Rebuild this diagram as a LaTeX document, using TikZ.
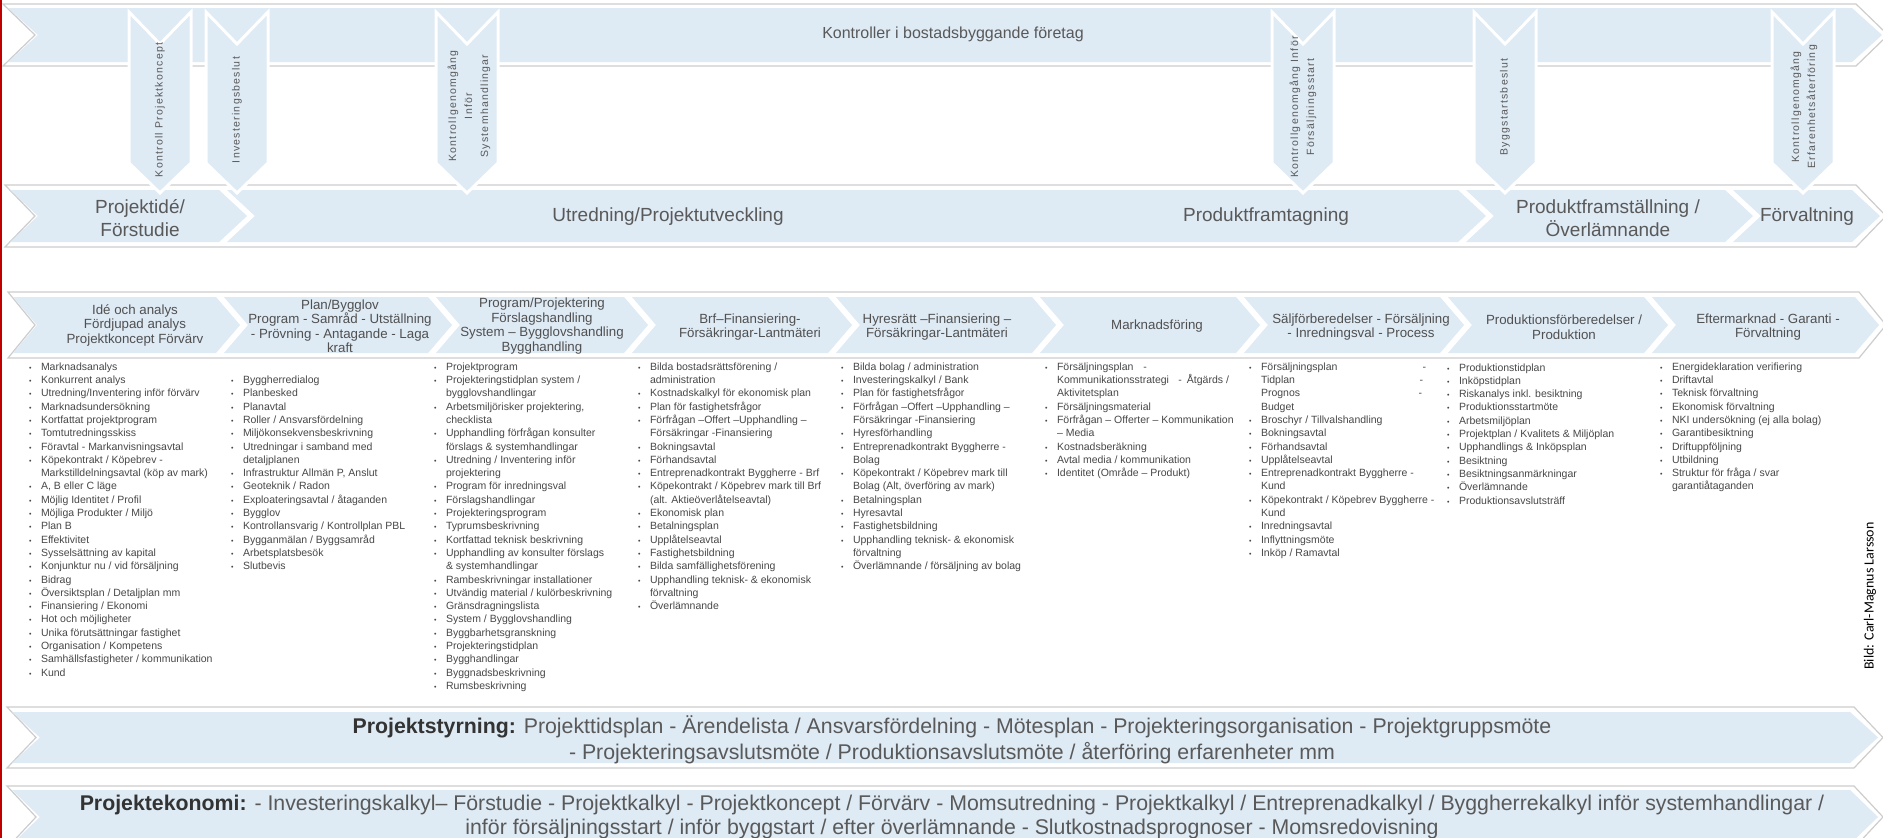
\documentclass[tikz,border=0pt]{standalone}
\usepackage{fontspec}
\setmainfont{Liberation Sans}
\newfontfamily\decfont[LetterSpace=12]{Liberation Sans}
\newfontfamily\bildfont{Carlito}
\definecolor{bandblue}{RGB}{222,234,244}
\definecolor{txt}{RGB}{89,89,89}
\definecolor{htxt}{RGB}{80,80,80}
\definecolor{ltxt}{RGB}{72,72,72}
\definecolor{btxt}{RGB}{51,51,51}
\definecolor{outl}{RGB}{205,205,205}
\definecolor{redline}{RGB}{192,0,0}
\newcommand\bl{\makebox[12pt][l]{\fontsize{7}{7}\selectfont\textbullet}}
\newcommand\ct{\hspace*{12pt}}
\newcommand\chevseg[5]{\path[seg] (#1,#3) -- (#2,#3) -- ({#2+#5},{(#3+#4)/2}) -- (#2,#4) -- (#1,#4) -- ({#1+#5},{(#3+#4)/2}) -- cycle;}
\newcommand\decarrow[1]{\path[darr] ({#1-31},12) -- (#1,44) -- ({#1+31},12) -- ({#1+31},163) -- (#1,193) -- ({#1-31},163) -- cycle;}
\tikzset{
  seg/.style={fill=bandblue},
  bandout/.style={draw=outl, line width=1.2pt},
  darr/.style={fill=bandblue, draw=white, line width=3pt, line join=miter},
  dtext/.style={font=\decfont\fontsize{10.5}{16}\selectfont, text=txt, align=center, inner sep=0pt, rotate=90},
  phase/.style={font=\fontsize{19}{23}\selectfont, text=txt, align=center, inner sep=0pt},
  head/.style={font=\fontsize{13.3}{14.5}\selectfont, text=htxt, align=center, inner sep=0pt},
  listcol/.style={font=\fontsize{10.5}{13.3}\selectfont, text=ltxt, align=left, inner sep=0pt, anchor=north west},
  bottomtext/.style={font=\fontsize{21.3}{26}\selectfont, text=txt, align=center, inner sep=0pt},
}
\begin{document}
\begin{tikzpicture}[x=1pt,y=-1pt]
\useasboundingbox (0,0) rectangle (1883,838);
\fill[white] (0,0) rectangle (1883,838);

% ---------- top band: Kontroller ----------
\draw[bandout] (3,4) -- (1856,4) -- (1888,35) -- (1856,66) -- (3,66) -- (35,35) -- cycle;
\chevseg{8}{1852}{8}{62}{30}
\node[font=\fontsize{16}{18}\selectfont, text=txt, inner sep=0pt] (title) at (953,34) {Kontroller i bostadsbyggande företag};

% ---------- phase band ----------
\draw[bandout] (5,185) -- (1856,185) -- (1886,216) -- (1856,247) -- (5,247) -- (35,216) -- cycle;
\chevseg{10}{219}{190}{242}{28}
\chevseg{227}{1458}{190}{242}{28}
\chevseg{1466}{1725}{190}{242}{28}
\chevseg{1733}{1852}{190}{242}{28}
\node[phase] (ph1) at (140,218) {Projektidé/\\Förstudie};
\node[phase] (ph2) at (668,217) {Utredning/Projektutveckling};
\node[phase] (ph3) at (1266,217) {Produktframtagning};
\node[phase] (ph4) at (1608,218) {Produktframställning /\\Överlämnande};
\node[phase] (ph5) at (1807,217) {Förvaltning};

% ---------- decision arrows ----------
\decarrow{160}
\decarrow{237}
\decarrow{467}
\decarrow{1303}
\decarrow{1505}
\decarrow{1803}
\node[dtext] (d1) at (160,110) {Kontroll Projektkoncept};
\node[dtext] (d2) at (237,110) {Investeringsbeslut};
\node[dtext] (d3) at (469,106) {Kontrollgenomgång\\Inför\\Systemhandlingar};
\node[dtext] (d4) at (1303,107) {Kontrollgenomgång Inför\\Försäljningsstart};
\node[dtext] (d5) at (1505,107) {Byggstartsbeslut};
\node[dtext] (d6) at (1804,107) {Kontrollgenomgång\\Erfarenhetsåterföring};

% ---------- column header band ----------
\draw[bandout] (8,292) -- (1859,292) -- (1886,325) -- (1859,358) -- (8,358) -- (35,325) -- cycle;
\chevseg{13}{216}{297}{353}{24}
\chevseg{224}{428}{297}{353}{24}
\chevseg{436}{624}{297}{353}{24}
\chevseg{632}{828}{297}{353}{24}
\chevseg{836}{1032}{297}{353}{24}
\chevseg{1040}{1236}{297}{353}{24}
\chevseg{1244}{1440}{297}{353}{24}
\chevseg{1448}{1644}{297}{353}{24}
\chevseg{1652}{1855}{297}{353}{24}
\node[head] (h1) at (135,325) {Idé och analys\\Fördjupad analys\\Projektkoncept Förvärv};
\node[head] (h2) at (340,326) {Plan/Bygglov\\Program - Samråd - Utställning\\- Prövning - Antagande - Laga\\kraft};
\node[head] (h3) at (542,326) {Program/Projektering\\Förslagshandling\\System – Bygglovshandling\\Bygghandling};
\node[head] (h4) at (750,327) {Brf–Finansiering-\\Försäkringar-Lantmäteri};
\node[head] (h5) at (937,327) {Hyresrätt –Finansiering –\\Försäkringar-Lantmäteri};
\node[head] (h6) at (1157,326) {Marknadsföring};
\node[head] (h7) at (1361,327) {Säljförberedelser - Försäljning\\ - Inredningsval - Process};
\node[head] (h8) at (1564,327) {Produktionsförberedelser /\\Produktion};
\node[head] (h9) at (1768,327) {Eftermarknad - Garanti -\\Förvaltning};

% ---------- lists ----------
\node[listcol] (l1) at (28.8,360.7) {\strut\bl Marknadsanalys\\
\bl Konkurrent analys\\
\bl Utredning/Inventering inför förvärv\\
\bl Marknadsundersökning\\
\bl Kortfattat projektprogram\\
\bl Tomtutredningsskiss\\
\bl Föravtal - Markanvisningsavtal\\
\bl Köpekontrakt / Köpebrev -\\
\ct Markstilldelningsavtal (köp av mark)\\
\bl A, B eller C läge\\
\bl Möjlig Identitet / Profil\\
\bl Möjliga Produkter / Miljö\\
\bl Plan B\\
\bl Effektivitet\\
\bl Sysselsättning av kapital\\
\bl Konjunktur nu / vid försäljning\\
\bl Bidrag\\
\bl Översiktsplan / Detaljplan mm\\
\bl Finansiering / Ekonomi\\
\bl Hot och möjligheter\\
\bl Unika förutsättningar fastighet\\
\bl Organisation / Kompetens\\
\bl Samhällsfastigheter / kommunikation\\
\bl Kund};

\node[listcol] (l2) at (230.8,374) {\strut\bl Byggherredialog\\
\bl Planbesked\\
\bl Planavtal\\
\bl Roller / Ansvarsfördelning\\
\bl Miljökonsekvensbeskrivning\\
\bl Utredningar i samband med\\
\ct detaljplanen\\
\bl Infrastruktur Allmän P, Anslut\\
\bl Geoteknik / Radon\\
\bl Exploateringsavtal / åtaganden\\
\bl Bygglov\\
\bl Kontrollansvarig / Kontrollplan PBL\\
\bl Bygganmälan / Byggsamråd\\
\bl Arbetsplatsbesök\\
\bl Slutbevis};

\node[listcol] (l3) at (433.8,360.7) {\strut\bl Projektprogram\\
\bl Projekteringstidplan system /\\
\ct bygglovshandlingar\\
\bl Arbetsmiljörisker projektering,\\
\ct checklista\\
\bl Upphandling förfrågan konsulter\\
\ct förslags \& systemhandlingar\\
\bl Utredning / Inventering inför\\
\ct projektering\\
\bl Program för inredningsval\\
\bl Förslagshandlingar\\
\bl Projekteringsprogram\\
\bl Typrumsbeskrivning\\
\bl Kortfattad teknisk beskrivning\\
\bl Upphandling av konsulter förslags\\
\ct \& systemhandlingar\\
\bl Rambeskrivningar installationer\\
\bl Utvändig material / kulörbeskrivning\\
\bl Gränsdragningslista\\
\bl System / Bygglovshandling\\
\bl Byggbarhetsgranskning\\
\bl Projekteringstidplan\\
\bl Bygghandlingar\\
\bl Byggnadsbeskrivning\\
\bl Rumsbeskrivning};

\node[listcol] (l4) at (637.8,360.7) {\strut\bl Bilda bostadsrättsförening /\\
\ct administration\\
\bl Kostnadskalkyl för ekonomisk plan\\
\bl Plan för fastighetsfrågor\\
\bl Förfrågan –Offert –Upphandling –\\
\ct Försäkringar -Finansiering\\
\bl Bokningsavtal\\
\bl Förhandsavtal\\
\bl Entreprenadkontrakt Byggherre - Brf\\
\bl Köpekontrakt / Köpebrev mark till Brf\\
\ct (alt. Aktieöverlåtelseavtal)\\
\bl Ekonomisk plan\\
\bl Betalningsplan\\
\bl Upplåtelseavtal\\
\bl Fastighetsbildning\\
\bl Bilda samfällighetsförening\\
\bl Upphandling teknisk- \& ekonomisk\\
\ct förvaltning\\
\bl Överlämnande};

\node[listcol] (l5) at (840.8,360.7) {\strut\bl Bilda bolag / administration\\
\bl Investeringskalkyl / Bank\\
\bl Plan för fastighetsfrågor\\
\bl Förfrågan –Offert –Upphandling –\\
\ct Försäkringar -Finansiering\\
\bl Hyresförhandling\\
\bl Entreprenadkontrakt Byggherre -\\
\ct Bolag\\
\bl Köpekontrakt / Köpebrev mark till\\
\ct Bolag (Alt, överföring av mark)\\
\bl Betalningsplan\\
\bl Hyresavtal\\
\bl Fastighetsbildning\\
\bl Upphandling teknisk- \& ekonomisk\\
\ct förvaltning\\
\bl Överlämnande / försäljning av bolag};

\node[listcol] (l6) at (1044.8,360.7) {\strut\bl \makebox[90pt][l]{Försäljningsplan\hfill -}\\
\ct \makebox[172pt][l]{Kommunikationsstrategi\hfill -\hspace{5pt}Åtgärds /}\\
\ct Aktivitetsplan\\
\bl Försäljningsmaterial\\
\bl Förfrågan – Offerter – Kommunikation\\
\ct – Media\\
\bl Kostnadsberäkning\\
\bl Avtal media / kommunikation\\
\bl Identitet (Område – Produkt)};

\node[listcol] (l7) at (1248.8,360.7) {\strut\bl \makebox[165pt][l]{Försäljningsplan\hfill -}\\
\ct \makebox[162pt][l]{Tidplan\hfill -}\\
\ct \makebox[161pt][l]{Prognos\hfill -}\\
\ct Budget\\
\bl Broschyr / Tillvalshandling\\
\bl Bokningsavtal\\
\bl Förhandsavtal\\
\bl Upplåtelseavtal\\
\bl Entreprenadkontrakt Byggherre -\\
\ct Kund\\
\bl Köpekontrakt / Köpebrev Byggherre -\\
\ct Kund\\
\bl Inredningsavtal\\
\bl Inflyttningsmöte\\
\bl Inköp / Ramavtal};

\node[listcol] (l8) at (1446.8,361.5) {\strut\bl Produktionstidplan\\
\bl Inköpstidplan\\
\bl Riskanalys inkl. besiktning\\
\bl Produktionsstartmöte\\
\bl Arbetsmiljöplan\\
\bl Projektplan / Kvalitets \& Miljöplan\\
\bl Upphandlings \& Inköpsplan\\
\bl Besiktning\\
\bl Besiktningsanmärkningar\\
\bl Överlämnande\\
\bl Produktionsavslutsträff};

\node[listcol] (l9) at (1659.8,360.7) {\strut\bl Energideklaration verifiering\\
\bl Driftavtal\\
\bl Teknisk förvaltning\\
\bl Ekonomisk förvaltning\\
\bl NKI undersökning (ej alla bolag)\\
\bl Garantibesiktning\\
\bl Driftuppföljning\\
\bl Utbildning\\
\bl Struktur för fråga / svar\\
\ct garantiåtaganden};

\node[font=\bildfont\fontsize{14}{16}\selectfont, text=black, rotate=90, inner sep=0pt] (bild) at (1870,596) {Bild: Carl-Magnus Larsson};

% ---------- bottom bands ----------
\draw[bandout] (7,707) -- (1854,707) -- (1883,737.5) -- (1854,768) -- (7,768) -- (36,737.5) -- cycle;
\chevseg{12}{1850}{712}{763}{28}
\node[bottomtext] (styr) at (952,740) {{\bfseries\color{btxt}Projektstyrning:} Projekttidsplan - Ärendelista / Ansvarsfördelning - Mötesplan - Projekteringsorganisation - Projektgruppsmöte\\- Projekteringsavslutsmöte / Produktionsavslutsmöte / återföring erfarenheter mm};

\draw[bandout] (7,786) -- (1854,786) -- (1883,817) -- (1854,848) -- (7,848) -- (36,817) -- cycle;
\chevseg{12}{1850}{790}{844}{28}
\node[bottomtext, font=\fontsize{21.3}{24}\selectfont] (ekon) at (952,817) {{\bfseries\color{btxt}Projektekonomi:} - Investeringskalkyl– Förstudie - Projektkalkyl - Projektkoncept / Förvärv - Momsutredning - Projektkalkyl / Entreprenadkalkyl / Byggherrekalkyl inför systemhandlingar /\\inför försäljningsstart / inför byggstart / efter överlämnande - Slutkostnadsprognoser - Momsredovisning};

% red edge line
\draw[redline, line width=2pt] (1,0) -- (1,838);
\end{tikzpicture}
\end{document}
